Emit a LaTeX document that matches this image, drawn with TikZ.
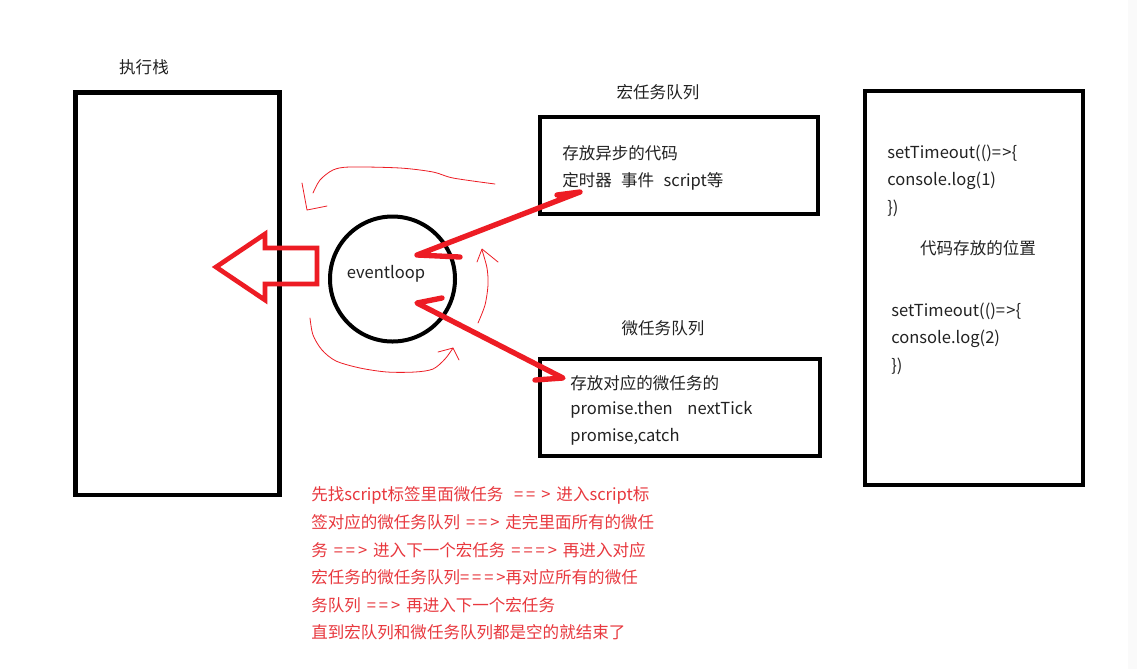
\documentclass[tikz,border=0pt]{standalone}
\usepackage{fontspec}
\setmainfont{Noto Sans CJK SC}
\usetikzlibrary{positioning,calc}
\definecolor{inkRed}{RGB}{237,28,36}
\definecolor{noteRed}{RGB}{232,56,62}
\definecolor{inkGray}{RGB}{34,34,34}
\newcommand{\eqtwo}{=\kern2.2pt=\kern2.2pt>}
\newcommand{\eqthree}{=\kern2.2pt=\kern2.2pt=\kern2.2pt>}
\newcommand{\gapsp}{\hspace{4.5pt}}

\begin{document}
\begin{tikzpicture}[x=0.75pt, y=-0.75pt,
    every node/.style={font=\fontsize{12.4}{14}\selectfont, text=inkGray, inner sep=0pt},
    framebox/.style={draw=black, line width=3.5pt, rectangle},
    fatarrow/.style={draw=inkRed, line width=4pt, line cap=round, line join=round},
    hollowarrow/.style={draw=inkRed, line width=3.5pt, line join=miter},
    swirl/.style={draw=inkRed, line width=0.6pt, line cap=round, line join=round},
    codeline/.style={anchor=west},
    note/.style={text=noteRed, anchor=west}]
  \useasboundingbox[fill=white] (0,0) rectangle (1137,669);
  \fill[black!2] (1128,0) rectangle (1137,669);

  % boxes and the event loop
  \node[framebox, minimum width=153pt, minimum height=302pt] (stack) at (177.5,293.75) {};
  \node[framebox, minimum width=208.5pt, minimum height=72.75pt] (macro) at (679,165.5) {};
  \node[framebox, minimum width=210pt, minimum height=72.75pt] (micro) at (680,407.5) {};
  \node[framebox, minimum width=163.5pt, minimum height=295.5pt] (code) at (974,288) {};
  \node[draw=black, circle, line width=3pt, minimum size=93.75pt] (loop) at (392.5,279) {};
  \node (loopText) at (386,274) {eventloop};

  % titles
  \node (stackTitle) at (144,67) {执行栈};
  \node (macroTitle) at (658,92) {宏任务队列};
  \node (microTitle) at (663,328) {微任务队列};

  % box contents
  \node[codeline] (macro1) at (562,153) {存放异步的代码};
  \node[codeline] (macro2) at (562,181) {定时器\hspace{7pt}{}事件\hspace{7pt}{}script等};
  \node[codeline] (micro1) at (570,383) {存放对应的微任务的};
  \node[codeline] (micro2) at (570,410) {promise.then\hspace{11pt}{}nextTick};
  \node[codeline] (micro3) at (570,437) {promise,catch};
  \node[codeline] (code1) at (887,153) {setTimeout(()=\kern1pt>\{};
  \node[codeline] (code2) at (887,181) {console.log(1)};
  \node[codeline] (code3) at (887,208) {\})};
  \node (codeTitle) at (978,248) {代码存放的位置};
  \node[codeline] (code4) at (891,311) {setTimeout(()=\kern1pt>\{};
  \node[codeline] (code5) at (891,339) {console.log(2)};
  \node[codeline] (code6) at (891,366) {\})};

  % big hollow arrow into the stack
  \draw[hollowarrow] (216,267) -- (265,234) -- (265,248) -- (317,248)
    -- (317,284) -- (265,284) -- (265,300) -- cycle;

  % two-way arrows between loop and queues
  \coordinate (macroBarb) at (557,195);
  \coordinate (macroEnd) at (580,192);
  \coordinate (loopUp) at (417,255);
  \coordinate (loopUpBarb) at (460,257);
  \coordinate (microBarb) at (535,380);
  \coordinate (microEnd) at (563,378);
  \coordinate (loopDown) at (417,303);
  \coordinate (loopDownBarb) at (442,298);
  \draw[fatarrow] (macroBarb) -- (macroEnd) -- (loopUp) -- (loopUpBarb);
  \draw[fatarrow] (microBarb) -- (microEnd) -- (loopDown) -- (loopDownBarb);

  % thin strokes going round the loop
  \draw[swirl] plot[smooth] coordinates {(495,184) (453,178) (433,172) (400,168)
    (350,167) (333,170) (320,180) (313,193)};
  \draw[swirl] (302,183) -- (307,210) -- (327,206);
  \draw[swirl] plot[smooth] coordinates {(478,323) (485,305) (488,285) (487,268) (482,250)};
  \draw[swirl] (477,262) -- (482,249) -- (498,262);
  \draw[swirl] plot[smooth] coordinates {(310,318) (313,335) (322,350) (336,361)
    (360,368) (387,372) (415,372) (433,369) (445,359) (453,348)};
  \draw[swirl] (438,352) -- (453,348) -- (459,360);

  % note under the queues
  \foreach \txt [count=\i] in {%
      先找script标签里面微任务\hspace{8pt}{}=\kern2.2pt=\gapsp{}>\gapsp{}进入script标,
      签对应的微任务队列\gapsp{}\eqtwo\gapsp{}走完里面所有的微任,
      务\gapsp{}\eqtwo\gapsp{}进入下一个宏任务\gapsp{}\eqthree\gapsp{}再进入对应,
      宏任务的微任务队列\eqthree{}再对应所有的微任,
      务队列\gapsp{}\eqtwo\gapsp{}再进入下一个宏任务,
      直到宏队列和微任务队列都是空的就结束了}{
    \node[note] (note\i) at (311,{495+27.5*(\i-1)}) {\txt};}
\end{tikzpicture}
\end{document}
